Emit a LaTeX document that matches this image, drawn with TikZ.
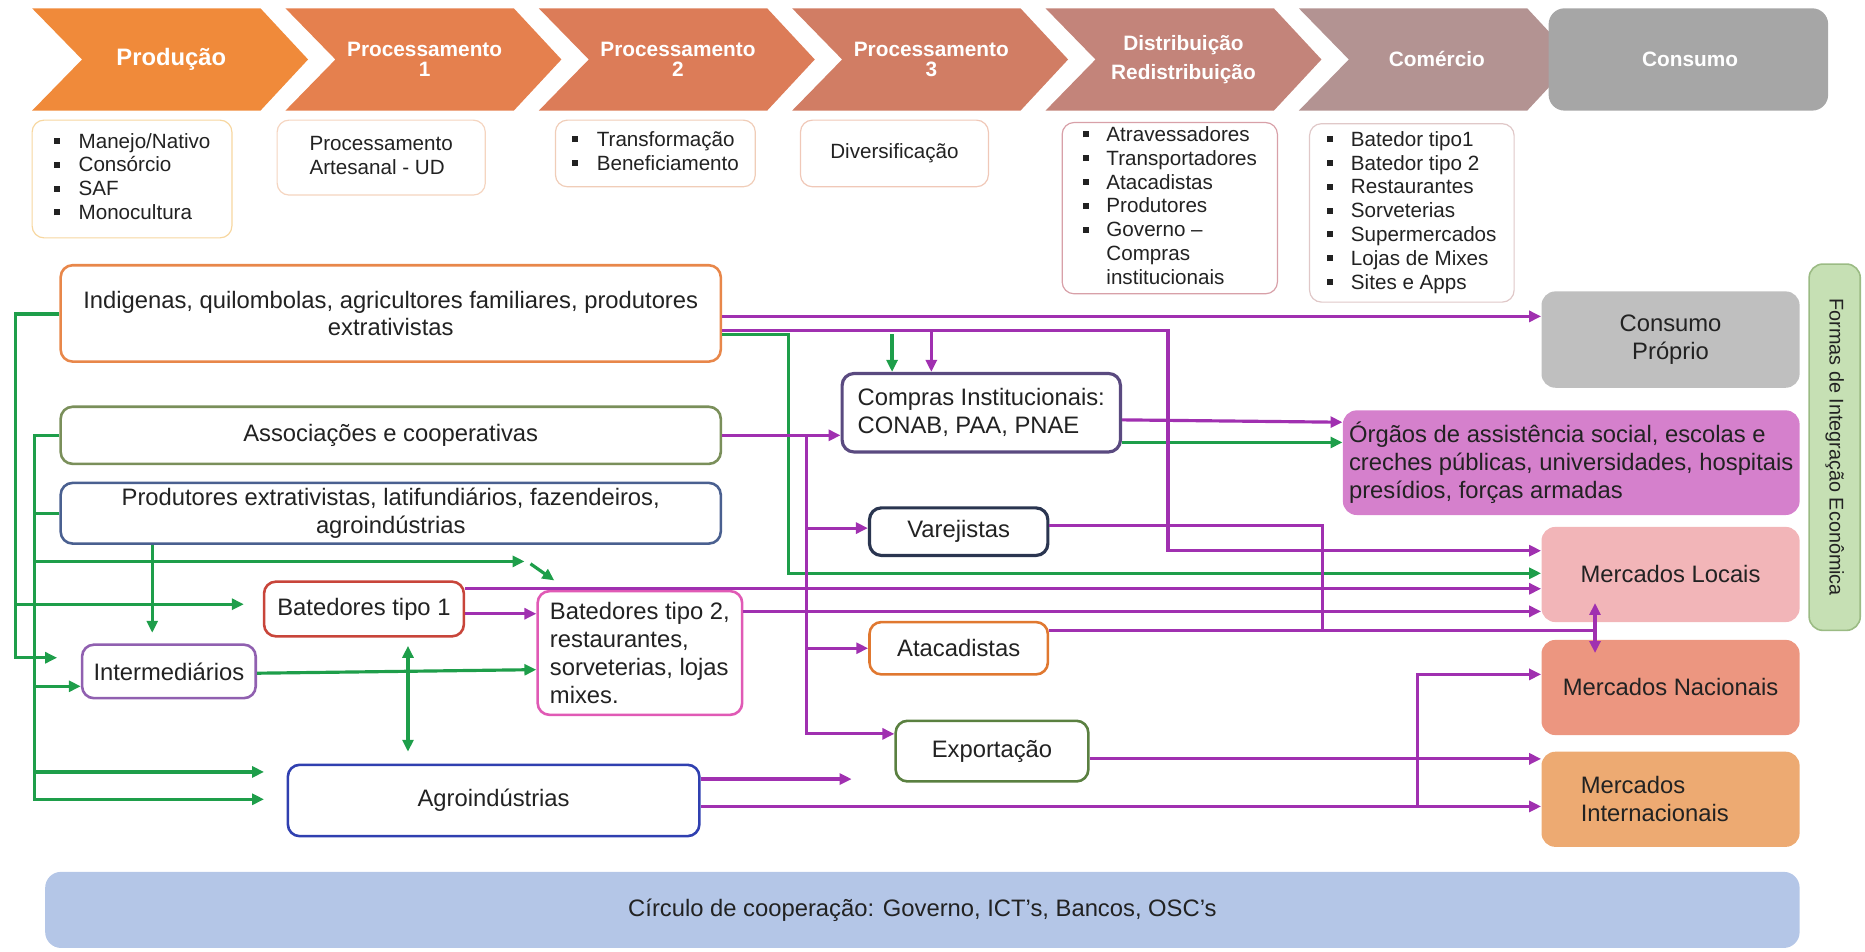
\documentclass[tikz,border=0pt]{standalone}
\usepackage{fontspec}
\setmainfont{Liberation Sans}
\usetikzlibrary{arrows.meta}
\definecolor{cgreen}{HTML}{1E9E4A}
\definecolor{cpurple}{HTML}{A030B0}
\definecolor{txt}{HTML}{222222}
\definecolor{ch0}{HTML}{F08A3A}
\definecolor{ch1}{HTML}{E5804E}
\definecolor{ch2}{HTML}{DC7C58}
\definecolor{ch3}{HTML}{D17D64}
\definecolor{ch4}{HTML}{C3847A}
\definecolor{ch5}{HTML}{B39392}
\definecolor{ch6}{HTML}{A6A6A6}
\definecolor{bA}{HTML}{E8874A}
\definecolor{bB}{HTML}{7A8F5A}
\definecolor{bC}{HTML}{4A6090}
\definecolor{bD}{HTML}{C8453A}
\definecolor{bE}{HTML}{E05AB5}
\definecolor{bF}{HTML}{9060B0}
\definecolor{bG}{HTML}{3040B0}
\definecolor{bH}{HTML}{5A4A80}
\definecolor{bI}{HTML}{2A3550}
\definecolor{bJ}{HTML}{E07830}
\definecolor{bK}{HTML}{5A8040}
\definecolor{fL}{HTML}{BFBFBF}
\definecolor{fM}{HTML}{D580CC}
\definecolor{fN}{HTML}{F2B5B8}
\definecolor{fO}{HTML}{EC9680}
\definecolor{fP}{HTML}{EDAA72}
\definecolor{fQ}{HTML}{C6E0B4}
\definecolor{bQ}{HTML}{9BBB84}
\definecolor{fR}{HTML}{B4C6E7}
\definecolor{d0}{HTML}{F7D7A0}
\definecolor{d1}{HTML}{F5D5C0}
\definecolor{d2}{HTML}{F0CDB8}
\definecolor{d3}{HTML}{F0C8B8}
\definecolor{d4}{HTML}{D8A0A8}
\definecolor{d5}{HTML}{E0C8C8}
\newcommand{\bl}{\rule[0.2em]{3pt}{3pt}}
\newcommand{\mychev}[2]{\fill[#2] (#1,7) -- ++(192,0) -- ++(40,43) -- ++(-40,43) -- ++(-192,0) -- ++(42,-43) -- cycle;}
\tikzset{
  sz/.style 2 args={minimum width=#1*0.6pt, minimum height=#2*0.6pt},
  base/.style={inner sep=0pt, align=center, text=txt},
  mbox/.style={base, draw, rounded corners=6pt, line width=1.3pt, fill=white, font=\fontsize{12}{14}\selectfont},
  dbox/.style={base, draw, rounded corners=6pt, line width=0.6pt, fill=white, font=\fontsize{10.4}{12}\selectfont},
  fbox/.style={base, rounded corners=7pt, font=\fontsize{12}{14}\selectfont},
  chtxt/.style={text=white, font=\bfseries\fontsize{10.5}{10}\selectfont, align=center},
  tip/.style={-{Triangle[length=6pt,width=5.5pt]}},
  dtip/.style={{Triangle[length=6pt,width=5.5pt]}-{Triangle[length=6pt,width=5.5pt]}},
  gl/.style={cgreen, line width=1.6pt},
  garr/.style={gl, tip},
  gdarr/.style={gl, dtip},
  pl/.style={cpurple, line width=1.6pt},
  parr/.style={pl, tip},
  pdarr/.style={pl, dtip},
}
\begin{document}
\begin{tikzpicture}[x=0.6pt,y=-0.6pt]
\useasboundingbox (0,0) rectangle (1568,800);
% chevrons
\mychev{27}{ch0}
\mychev{240}{ch1}
\mychev{453}{ch2}
\mychev{666}{ch3}
\mychev{879}{ch4}
\mychev{1092}{ch5}
\node[fbox, fill=ch6, sz={235}{86}, rounded corners=8pt] (cons) at (1419.5,50) {};
\node[chtxt, font=\bfseries\fontsize{12}{12}\selectfont] (t0) at (144,50) {Produção};
\node[chtxt] (t1) at (357,50) {Processamento\\1};
\node[chtxt] (t2) at (570,50) {Processamento\\2};
\node[chtxt] (t3) at (783,50) {Processamento\\3};
\node[chtxt, font=\bfseries\fontsize{10.5}{14.4}\selectfont] (t4) at (995,50) {Distribuição\\Redistribuição};
\node[chtxt] (t5) at (1208,50) {Comércio};
\node[chtxt] (t6) at (1421,50) {Consumo};
% description boxes
\node[dbox, draw=d0, sz={168}{99}] (p0) at (111,150.5) {\begin{tabular}{@{}l@{\hspace{9.6pt}}l@{}}\bl & Manejo/Nativo\\ \bl & Consórcio\\ \bl & SAF\\ \bl & Monocultura\end{tabular}};
\node[dbox, draw=d1, sz={175}{63}] (p1) at (320.5,132.5) {\begin{tabular}{@{}l@{}}Processamento\\ Artesanal - UD\end{tabular}};
\node[dbox, draw=d2, sz={168}{56}] (p2) at (551,129) {\begin{tabular}{@{}l@{\hspace{9.6pt}}l@{}}\bl & Transformação\\ \bl & Beneficiamento\end{tabular}};
\node[dbox, draw=d3, sz={158}{56}] (p3) at (752,129) {Diversificação};
\node[dbox, draw=d4, sz={181}{144}] (p4) at (983.5,175) {\begin{tabular}{@{}l@{\hspace{9pt}}l@{}}\bl & Atravessadores\\ \bl & Transportadores\\ \bl & Atacadistas\\ \bl & Produtores\\ \bl & Governo --\\ & Compras\\ & institucionais\end{tabular}};
\node[dbox, draw=d5, sz={172}{150}] (p5) at (1187,179) {\begin{tabular}{@{}l@{\hspace{9pt}}l@{}}\bl & Batedor tipo1\\ \bl & Batedor tipo 2\\ \bl & Restaurantes\\ \bl & Sorveterias\\ \bl & Supermercados\\ \bl & Lojas de Mixes\\ \bl & Sites e Apps\end{tabular}};
% main nodes
\node[mbox, draw=bA, sz={555}{81}] (A) at (328.5,263.5) {Indigenas, quilombolas, agricultores familiares, produtores\\extrativistas};
\node[mbox, draw=bB, sz={555}{48}] (B) at (328.5,366) {Associações e cooperativas};
\node[mbox, draw=bC, sz={555}{51}] (C) at (328.5,431.5) {Produtores extrativistas, latifundiários, fazendeiros,\\agroindústrias};
\node[mbox, draw=bD, sz={168}{46}] (D) at (306,512) {Batedores tipo 1};
\node[mbox, draw=bE, sz={172}{104}, align=left] (E) at (538,549) {Batedores tipo 2,\\restaurantes,\\sorveterias, lojas\\mixes.};
\node[mbox, draw=bF, sz={146}{45}] (F) at (142,564.5) {Intermediários};
\node[mbox, draw=bG, sz={346}{60}] (G) at (415,673) {Agroindústrias};
\node[mbox, draw=bH, sz={234}{66}, align=left, line width=1.6pt] (H) at (825,347) {Compras Institucionais:\\CONAB, PAA, PNAE};
\node[mbox, draw=bI, sz={150}{40}, line width=1.6pt] (I) at (806,447) {Varejistas};
\node[mbox, draw=bJ, sz={150}{44}] (J) at (806,545) {Atacadistas};
\node[mbox, draw=bK, sz={162}{51}] (K) at (834,631.5) {Exportação};
\node[fbox, fill=fL, sz={217}{81}] (L) at (1404.5,285.5) {Consumo\\Próprio};
\node[fbox, fill=fM, sz={384}{88}, align=left] (M) at (1321,389) {Órgãos de assistência social, escolas e\\creches públicas, universidades, hospitais\\presídios, forças armadas};
\node[fbox, fill=fN, sz={217}{80}] (N) at (1404.5,483) {Mercados Locais};
\node[fbox, fill=fO, sz={217}{80}] (O) at (1404.5,578) {Mercados Nacionais};
\node[fbox, fill=fP, sz={217}{80}, align=left, text width=90.6pt, inner xsep=19.8pt] (P) at (1404.5,672) {Mercados\\Internacionais};
\node[fbox, fill=fQ, draw=bQ, line width=0.8pt, rotate=-90, sz={308}{43}, font=\fontsize{10}{12}\selectfont] (Q) at (1542.5,376) {Formas de Integração Econômica};
\node[fbox, fill=fR, sz={1475}{64}, rounded corners=8pt, font=\fontsize{12}{14}\selectfont] (R) at (775.5,765) {Círculo de cooperação: Governo, ICT's, Bancos, OSC's};
% bus coordinates and free ends
\coordinate (gx1) at (13,0);
\coordinate (gx2) at (29,0);
\coordinate (gx3) at (663,0);
\coordinate (px1) at (982,0);
\coordinate (px2) at (678,0);
\coordinate (px3) at (1112,0);
\coordinate (px4) at (1341,0);
\coordinate (px5) at (1192,0);
\coordinate (f1) at (48,553);
\coordinate (f2) at (205,508);
\coordinate (f3) at (222,672);
\coordinate (f4) at (441,472);
\coordinate (f5) at (446,474);
\coordinate (f6) at (466,488);
\coordinate (f7) at (222,649);
\coordinate (f8) at (128,532);
\coordinate (f9) at (343,543);
\coordinate (f10) at (343,632);
\coordinate (f11) at (716,655);
\coordinate (j1) at (750,281);
\coordinate (j2) at (783,278);
% green connectors
\draw[garr] (A.west |- 0,264) -| (gx1 |- 0,553) -- (f1);
\draw[garr] (gx1 |- 0,508) -- (f2);
\draw[garr] (B.west |- 0,366) -| (gx2 |- 0,672) -- (f3);
\draw[gl] (C.west |- 0,432) -- (gx2 |- 0,432);
\draw[garr] (gx2 |- 0,472) -- (f4);
\draw[garr] (f5) -- (f6);
\draw[garr] (gx2 |- 0,577) -- (F.west |- 0,577);
\draw[garr] (gx2 |- 0,649) -- (f7);
\draw[garr] (C.south -| 128,0) -- (f8);
\draw[garr] (F.east |- 0,566) -- (E.west |- 0,563);
\draw[gdarr] (f9) -- (f10);
\draw[garr] (A.east |- 0,281) -| (gx3 |- 0,482) -- (N.west |- 0,482);
\draw[garr] (j1) -- (H.north -| j1);
\draw[garr] (H.east |- 0,372) -- (M.west |- 0,372);
% purple connectors
\draw[parr] (A.east |- 0,266) -- (L.west |- 0,266);
\draw[parr] (A.east |- 0,278) -| (px1 |- 0,463) -- (N.west |- 0,463);
\draw[parr] (j2) -- (H.north -| j2);
\draw[parr] (B.east |- 0,366) -- (H.west |- 0,366);
\draw[parr] (px2 |- 0,366) -- (px2 |- 0,617) -- (K.west |- 0,617);
\draw[parr] (px2 |- 0,444) -- (I.west |- 0,444);
\draw[parr] (px2 |- 0,545) -- (J.west |- 0,545);
\draw[parr] (H.east |- 0,353) -- (M.west |- 0,355);
\draw[pl] (I.east |- 0,442) -| (px3 |- 0,530);
\draw[pl] (J.east |- 0,530) -- (px4 |- 0,530);
\draw[pdarr] (px4 |- 0,507) -- (px4 |- 0,549);
\draw[parr] (D.east |- 0,495) -- (N.west |- 0,495);
\draw[parr] (D.east |- 0,516) -- (E.west |- 0,516);
\draw[parr] (E.east |- 0,514) -- (N.west |- 0,514);
\draw[parr] (K.east |- 0,638) -- (P.west |- 0,638);
\draw[parr] (G.east |- 0,655) -- (f11);
\draw[parr] (G.east |- 0,678) -- (P.west |- 0,678);
\draw[parr] (px5 |- 0,678) |- (O.west |- 0,567);
\end{tikzpicture}
\end{document}
